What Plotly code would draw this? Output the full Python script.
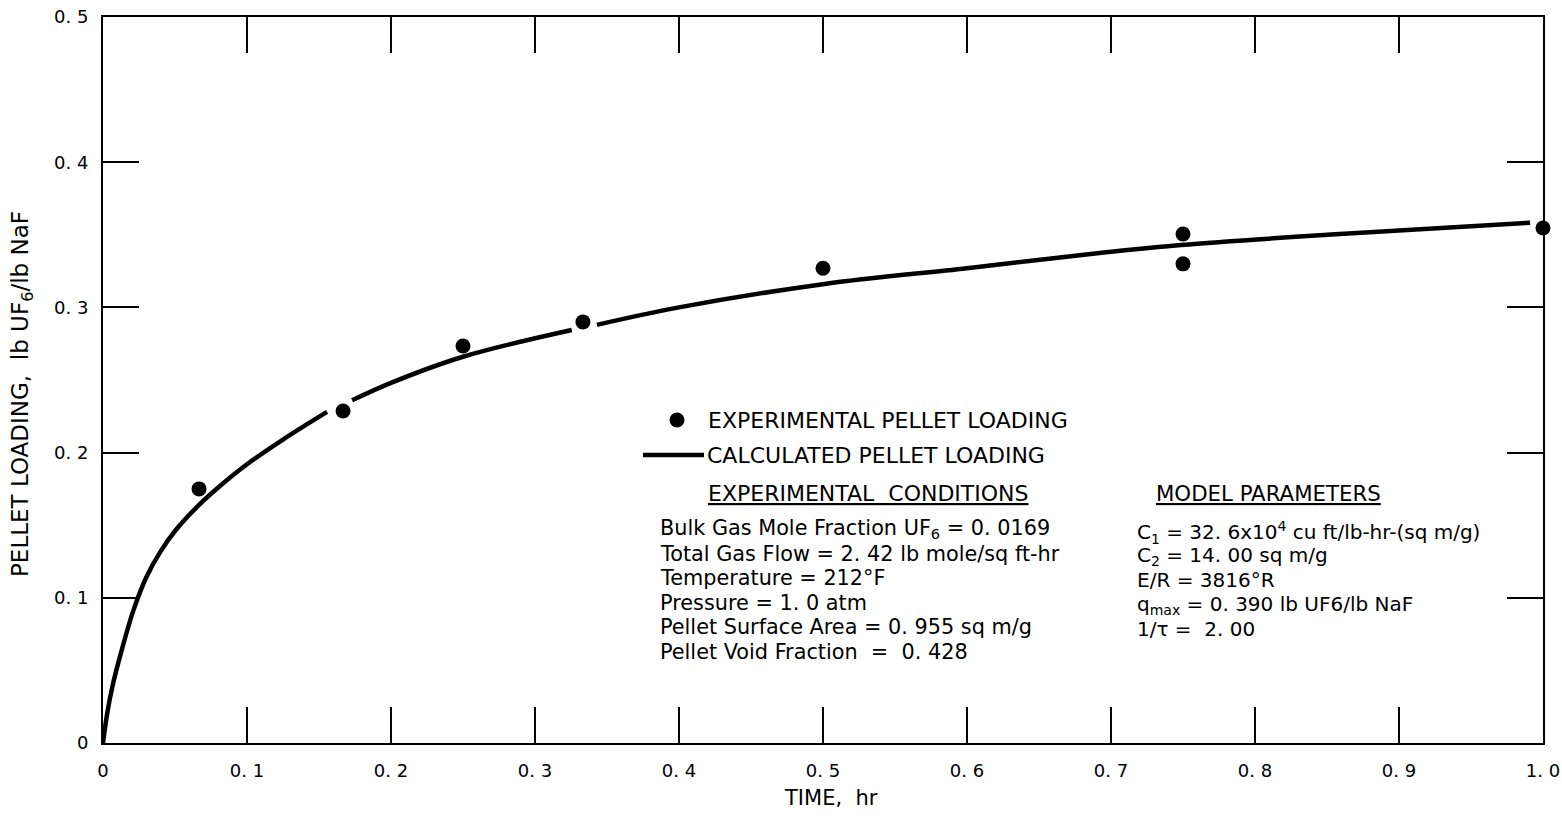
import plotly.graph_objects as go

# Experimental pellet loading (time in hr, loading in lb UF6 / lb NaF)
exp_time = [0.0667, 0.1667, 0.25, 0.3333, 0.5, 0.75, 0.75, 1.0]
exp_loading = [0.175, 0.2287, 0.2734, 0.290, 0.327, 0.3506, 0.330, 0.3547]

# Calculated pellet loading, drawn in three pieces (broken at two data points)
calc_time_1 = [0, 0.003, 0.007, 0.013, 0.021, 0.03, 0.04, 0.05, 0.0667, 0.08, 0.1, 0.125, 0.1556]
calc_load_1 = [0, 0.021, 0.041, 0.064, 0.091, 0.114, 0.132, 0.146, 0.164, 0.176, 0.192, 0.209, 0.228]
calc_time_2 = [0.173, 0.2, 0.25, 0.3255]
calc_load_2 = [0.236, 0.248, 0.266, 0.2844]
calc_time_3 = [0.343, 0.4, 0.5, 0.6, 0.692, 0.7486, 0.85, 0.991]
calc_load_3 = [0.288, 0.300, 0.316, 0.327, 0.3375, 0.343, 0.350, 0.3583]

x_ticks = [0, 0.1, 0.2, 0.3, 0.4, 0.5, 0.6, 0.7, 0.8, 0.9, 1.0]
x_tick_text = ["0", "0. 1", "0. 2", "0. 3", "0. 4", "0. 5", "0. 6", "0. 7", "0. 8", "0. 9", "1. 0"]
y_ticks = [0, 0.1, 0.2, 0.3, 0.4, 0.5]
y_tick_text = ["0", "0. 1", "0. 2", "0. 3", "0. 4", "0. 5"]

conditions = [
    "Bulk Gas Mole Fraction UF<sub>6</sub> = 0. 0169",
    "Total Gas Flow = 2. 42 lb mole/sq ft-hr",
    "Temperature = 212°F",
    "Pressure = 1. 0 atm",
    "Pellet Surface Area = 0. 955 sq m/g",
    "Pellet Void Fraction  =  0. 428",
]
parameters = [
    "C<sub>1</sub> = 32. 6x10<sup>4</sup> cu ft/lb-hr-(sq m/g)",
    "C<sub>2</sub> = 14. 00 sq m/g",
    "E/R = 3816°R",
    "q<sub>max</sub> = 0. 390 lb UF6/lb NaF",
    "1/τ =  2. 00",
]

FONT = "DejaVu Sans"
W, H = 1562, 819
L, R, T, B = 103, 19, 17, 76


def px(x):
    return (x - L) / (W - L - R)


def py(y):
    return (H - B - y) / (H - T - B)


fig = go.Figure()
line_style = dict(color="black", width=4.5, shape="spline", smoothing=1.0)
for tx, ty in [(calc_time_1, calc_load_1), (calc_time_2, calc_load_2), (calc_time_3, calc_load_3)]:
    fig.add_trace(go.Scatter(x=tx, y=ty, mode="lines", line=line_style,
                             showlegend=False, hoverinfo="skip", cliponaxis=False))
fig.add_trace(go.Scatter(x=exp_time, y=exp_loading, mode="markers",
                         marker=dict(color="black", size=15), showlegend=False,
                         cliponaxis=False))

axis_common = dict(
    showline=True, linecolor="black", linewidth=2, mirror="ticks",
    ticks="inside", ticklen=36, tickwidth=1.5, tickcolor="black",
    showgrid=False, zeroline=False, automargin=False,
    tickfont=dict(family=FONT, size=18, color="black"),
)
fig.update_xaxes(range=[0, 1.0], tickvals=x_ticks, ticktext=x_tick_text,
                 ticklabelstandoff=10, **axis_common)
fig.update_yaxes(range=[0, 0.5], tickvals=y_ticks, ticktext=y_tick_text,
                 ticklabelstandoff=9, **axis_common)

# Key: dot and line samples
shapes = [
    dict(type="circle", xref="paper", yref="paper",
         x0=px(677 - 7.5), x1=px(677 + 7.5), y0=py(420 + 7.5), y1=py(420 - 7.5),
         fillcolor="black", line=dict(color="black", width=0)),
    dict(type="line", xref="paper", yref="paper",
         x0=px(643), x1=px(704), y0=py(455), y1=py(455),
         line=dict(color="black", width=4.5)),
]

annotations = []


def label(text, x, y, size=20, anchor="left", angle=0):
    annotations.append(dict(text=text, x=px(x), y=py(y), xref="paper", yref="paper",
                            xanchor=anchor, yanchor="middle", showarrow=False,
                            textangle=angle,
                            font=dict(family=FONT, size=size, color="black")))


# Axis titles
label("TIME,  hr", 831, 798, size=21, anchor="center")
label("PELLET LOADING,  lb UF<sub>6</sub>/lb NaF", 22, 394, size=23, anchor="center", angle=-90)

label("EXPERIMENTAL PELLET LOADING", 706, 420, size=22)
label("CALCULATED PELLET LOADING", 705, 456, size=22)
label("<u>EXPERIMENTAL  CONDITIONS</u>", 706, 494, size=22)
for i, t in enumerate(conditions):
    label(t, 658, 529 + i * 24.6, size=20.8)
label("<u>MODEL PARAMETERS</u>", 1154, 494, size=21.3)
for i, t in enumerate(parameters):
    label(t, 1135, 532 + i * 24.2)

fig.update_layout(
    width=W, height=H,
    margin=dict(l=L, r=R, t=T, b=B),
    paper_bgcolor="white", plot_bgcolor="white",
    shapes=shapes, annotations=annotations,
    font=dict(family=FONT, color="black"),
)

fig.write_html("out.html")
